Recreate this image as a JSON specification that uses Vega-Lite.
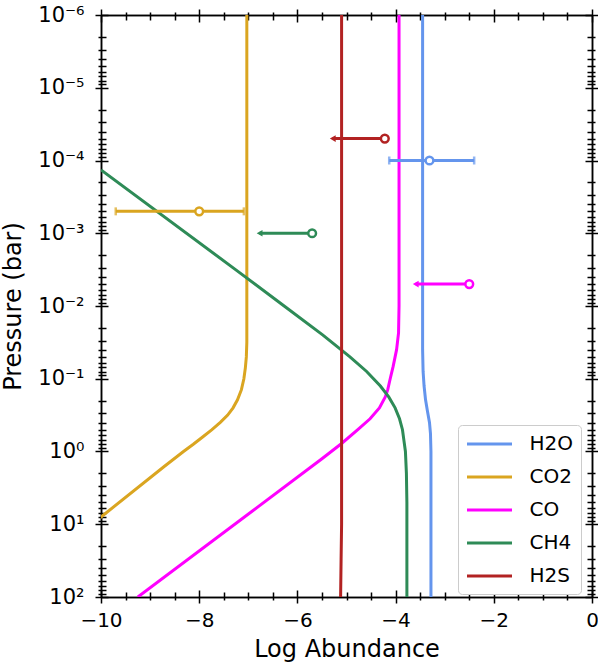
{
  "$schema": "https://vega.github.io/schema/vega-lite/v6.json",
  "width": 491,
  "height": 582,
  "autosize": "none",
  "padding": {"left": 101, "top": 15, "right": 6, "bottom": 68},
  "config": {
    "font": "DejaVu Sans",
    "view": {"stroke": null},
    "axis": {"grid": false, "domainColor": "black", "domainWidth": 1.5, "tickColor": "black", "tickWidth": 1.5, "labelColor": "black", "titleColor": "black", "titleFontWeight": "normal"}
  },
  "datasets": {
    "curves": [
      {"s": "H2O", "i": 0, "x": -3.45, "p": 1e-6},
      {"s": "H2O", "i": 1, "x": -3.45, "p": 0.0398},
      {"s": "H2O", "i": 2, "x": -3.44, "p": 0.0794},
      {"s": "H2O", "i": 3, "x": -3.42, "p": 0.1259},
      {"s": "H2O", "i": 4, "x": -3.39, "p": 0.195},
      {"s": "H2O", "i": 5, "x": -3.35, "p": 0.2818},
      {"s": "H2O", "i": 6, "x": -3.31, "p": 0.398},
      {"s": "H2O", "i": 7, "x": -3.29, "p": 0.5623},
      {"s": "H2O", "i": 8, "x": -3.28, "p": 1},
      {"s": "H2O", "i": 9, "x": -3.28, "p": 100},
      {"s": "CO2", "i": 0, "x": -7.03, "p": 1e-6},
      {"s": "CO2", "i": 1, "x": -7.03, "p": 0.0316},
      {"s": "CO2", "i": 2, "x": -7.04, "p": 0.0501},
      {"s": "CO2", "i": 3, "x": -7.06, "p": 0.0708},
      {"s": "CO2", "i": 4, "x": -7.09, "p": 0.1},
      {"s": "CO2", "i": 5, "x": -7.14, "p": 0.1413},
      {"s": "CO2", "i": 6, "x": -7.22, "p": 0.195},
      {"s": "CO2", "i": 7, "x": -7.31, "p": 0.251},
      {"s": "CO2", "i": 8, "x": -7.42, "p": 0.316},
      {"s": "CO2", "i": 9, "x": -7.57, "p": 0.398},
      {"s": "CO2", "i": 10, "x": -7.74, "p": 0.501},
      {"s": "CO2", "i": 11, "x": -7.93, "p": 0.631},
      {"s": "CO2", "i": 12, "x": -8.12, "p": 0.794},
      {"s": "CO2", "i": 13, "x": -8.32, "p": 1},
      {"s": "CO2", "i": 14, "x": -8.70, "p": 1.585},
      {"s": "CO2", "i": 15, "x": -10.0, "p": 7.94},
      {"s": "CO2", "i": 16, "x": -10.55, "p": 15.85},
      {"s": "CO", "i": 0, "x": -3.93, "p": 1e-6},
      {"s": "CO", "i": 1, "x": -3.93, "p": 0.01},
      {"s": "CO", "i": 2, "x": -3.94, "p": 0.0234},
      {"s": "CO", "i": 3, "x": -3.98, "p": 0.0398},
      {"s": "CO", "i": 4, "x": -4.05, "p": 0.0676},
      {"s": "CO", "i": 5, "x": -4.11, "p": 0.1},
      {"s": "CO", "i": 6, "x": -4.16, "p": 0.1413},
      {"s": "CO", "i": 7, "x": -4.21, "p": 0.1778},
      {"s": "CO", "i": 8, "x": -4.33, "p": 0.2512},
      {"s": "CO", "i": 9, "x": -4.52, "p": 0.3548},
      {"s": "CO", "i": 10, "x": -4.77, "p": 0.5012},
      {"s": "CO", "i": 11, "x": -5.10, "p": 0.7762},
      {"s": "CO", "i": 12, "x": -5.50, "p": 1.2589},
      {"s": "CO", "i": 13, "x": -9.25, "p": 100},
      {"s": "CH4", "i": 0, "x": -10.0, "p": 0.0001349},
      {"s": "CH4", "i": 1, "x": -7.26, "p": 0.00316},
      {"s": "CH4", "i": 2, "x": -6.27, "p": 0.01},
      {"s": "CH4", "i": 3, "x": -5.48, "p": 0.0251},
      {"s": "CH4", "i": 4, "x": -4.93, "p": 0.0501},
      {"s": "CH4", "i": 5, "x": -4.59, "p": 0.0794},
      {"s": "CH4", "i": 6, "x": -4.31, "p": 0.1259},
      {"s": "CH4", "i": 7, "x": -4.14, "p": 0.1778},
      {"s": "CH4", "i": 8, "x": -4.01, "p": 0.2512},
      {"s": "CH4", "i": 9, "x": -3.92, "p": 0.3548},
      {"s": "CH4", "i": 10, "x": -3.86, "p": 0.5012},
      {"s": "CH4", "i": 11, "x": -3.83, "p": 0.7079},
      {"s": "CH4", "i": 12, "x": -3.80, "p": 1},
      {"s": "CH4", "i": 13, "x": -3.78, "p": 1.995},
      {"s": "CH4", "i": 14, "x": -3.77, "p": 5.012},
      {"s": "CH4", "i": 15, "x": -3.77, "p": 100},
      {"s": "H2S", "i": 0, "x": -5.10, "p": 1e-6},
      {"s": "H2S", "i": 1, "x": -5.10, "p": 10},
      {"s": "H2S", "i": 2, "x": -5.11, "p": 30},
      {"s": "H2S", "i": 3, "x": -5.12, "p": 100}
    ],
    "obs": [
      {"s": "H2O", "x": -3.31, "p": 0.0001, "lo": -4.13, "hi": -2.40},
      {"s": "CO2", "x": -8.0, "p": 0.0005, "lo": -9.70, "hi": -7.09},
      {"s": "H2S", "x": -4.22, "p": 0.00005, "lo": -5.28, "hi": -4.22},
      {"s": "CH4", "x": -5.70, "p": 0.001, "lo": -6.77, "hi": -5.70},
      {"s": "CO", "x": -2.5, "p": 0.005, "lo": -3.59, "hi": -2.5}
    ],
    "caps": [
      {"s": "H2O", "x": -4.13, "p": 0.0001},
      {"s": "H2O", "x": -2.40, "p": 0.0001},
      {"s": "CO2", "x": -9.70, "p": 0.0005},
      {"s": "CO2", "x": -7.09, "p": 0.0005}
    ],
    "arrows": [
      {"s": "H2S", "x": -5.28, "p": 0.00005},
      {"s": "CH4", "x": -6.77, "p": 0.001},
      {"s": "CO", "x": -3.59, "p": 0.005}
    ]
  },
  "layer": [
    {
      "data": {"name": "curves"},
      "mark": {"type": "line", "strokeWidth": 3, "clip": true},
      "encoding": {
        "x": {"field": "x", "type": "quantitative", "scale": {"domain": [-10, 0], "nice": false, "zero": false},
          "axis": {"orient": "bottom", "values": [-10,-9.5,-9,-8.5,-8,-7.5,-7,-6.5,-6,-5.5,-5,-4.5,-4,-3.5,-3,-2.5,-2,-1.5,-1,-0.5,0],
            "tickSize": {"condition": {"test": "datum.value % 2 == 0", "value": 6}, "value": 3},
            "labelExpr": "datum.value % 2 == 0 ? format(datum.value, 'd') : ''",
            "labelFontSize": 20, "labelPadding": 7, "labelOverlap": false, "labelBound": false, "labelFlush": false,
            "title": "Log Abundance", "titleFontSize": 24, "titlePadding": 7}},
        "y": {"field": "p", "type": "quantitative", "scale": {"type": "log", "domain": [1e-6, 100], "reverse": true, "nice": false},
          "axis": {"orient": "left", "values": [1e-6,2e-6,3e-6,4e-6,5e-6,6e-6,7e-6,8e-6,9e-6,1e-5,2e-5,3e-5,4e-5,5e-5,6e-5,7e-5,8e-5,9e-5,1e-4,2e-4,3e-4,4e-4,5e-4,6e-4,7e-4,8e-4,9e-4,0.001,0.002,0.003,0.004,0.005,0.006,0.007,0.008,0.009,0.01,0.02,0.03,0.04,0.05,0.06,0.07,0.08,0.09,0.1,0.2,0.3,0.4,0.5,0.6,0.7,0.8,0.9,1,2,3,4,5,6,7,8,9,10,20,30,40,50,60,70,80,90,100],
            "tickSize": {"condition": {"test": "abs(log(datum.value)/LN10 - round(log(datum.value)/LN10)) < 0.01", "value": 6}, "value": 3},
            "labelExpr": "abs(log(datum.value)/LN10 - round(log(datum.value)/LN10)) < 0.01 ? '10' + ['⁻⁶','⁻⁵','⁻⁴','⁻³','⁻²','⁻¹','⁰','¹','²'][round(log(datum.value)/LN10) + 6] : ''",
            "labelFontSize": 21, "labelPadding": 11, "labelOverlap": false, "labelBound": false, "labelFlush": false,
            "title": "Pressure (bar)", "titleFontSize": 24, "titlePadding": 12}},
        "color": {"field": "s", "type": "nominal",
          "scale": {"domain": ["H2O", "CO2", "CO", "CH4", "H2S"], "range": ["#6495ED", "#DAA520", "#FF00FF", "#2E8B57", "#B22222"]},
          "legend": {"title": null, "orient": "none", "legendX": 357, "legendY": 410, "symbolType": "M-1,0H3.5", "symbolSize": 400, "symbolStrokeWidth": 3,
            "labelFontSize": 20, "labelOffset": 41, "rowPadding": 11, "padding": 7.5, "fillColor": "white", "strokeColor": "#cccccc", "cornerRadius": 4, "labelColor": "black"}},
        "order": {"field": "i", "type": "quantitative"}
      }
    },
    {
      "data": {"name": "obs"},
      "mark": {"type": "rule", "strokeWidth": 3},
      "encoding": {
        "x": {"field": "lo", "type": "quantitative", "scale": {"domain": [-10, 0], "nice": false, "zero": false},
          "axis": {"orient": "bottom", "values": [-10,-9.5,-9,-8.5,-8,-7.5,-7,-6.5,-6,-5.5,-5,-4.5,-4,-3.5,-3,-2.5,-2,-1.5,-1,-0.5,0],
            "tickSize": {"condition": {"test": "datum.value % 2 == 0", "value": -7}, "value": -5},
            "labels": false, "title": null}},
        "x2": {"field": "hi"},
        "y": {"field": "p", "type": "quantitative", "scale": {"type": "log", "domain": [1e-6, 100], "reverse": true, "nice": false},
          "axis": {"orient": "left", "values": [1e-6,2e-6,3e-6,4e-6,5e-6,6e-6,7e-6,8e-6,9e-6,1e-5,2e-5,3e-5,4e-5,5e-5,6e-5,7e-5,8e-5,9e-5,1e-4,2e-4,3e-4,4e-4,5e-4,6e-4,7e-4,8e-4,9e-4,0.001,0.002,0.003,0.004,0.005,0.006,0.007,0.008,0.009,0.01,0.02,0.03,0.04,0.05,0.06,0.07,0.08,0.09,0.1,0.2,0.3,0.4,0.5,0.6,0.7,0.8,0.9,1,2,3,4,5,6,7,8,9,10,20,30,40,50,60,70,80,90,100],
            "tickSize": {"condition": {"test": "abs(log(datum.value)/LN10 - round(log(datum.value)/LN10)) < 0.01", "value": -7}, "value": -5},
            "labels": false, "title": null}},
        "color": {"field": "s", "type": "nominal", "legend": null}
      }
    },
    {
      "data": {"name": "caps"},
      "mark": {"type": "tick", "orient": "vertical", "size": 8, "thickness": 2.5},
      "encoding": {
        "x": {"field": "x", "type": "quantitative", "scale": {"domain": [-10, 0], "nice": false, "zero": false},
          "axis": {"orient": "top", "values": [-10,-9.5,-9,-8.5,-8,-7.5,-7,-6.5,-6,-5.5,-5,-4.5,-4,-3.5,-3,-2.5,-2,-1.5,-1,-0.5,0],
            "tickSize": {"condition": {"test": "datum.value % 2 == 0", "value": 6}, "value": 3},
            "labels": false, "title": null}},
        "y": {"field": "p", "type": "quantitative", "scale": {"type": "log", "domain": [1e-6, 100], "reverse": true, "nice": false},
          "axis": {"orient": "right", "values": [1e-6,2e-6,3e-6,4e-6,5e-6,6e-6,7e-6,8e-6,9e-6,1e-5,2e-5,3e-5,4e-5,5e-5,6e-5,7e-5,8e-5,9e-5,1e-4,2e-4,3e-4,4e-4,5e-4,6e-4,7e-4,8e-4,9e-4,0.001,0.002,0.003,0.004,0.005,0.006,0.007,0.008,0.009,0.01,0.02,0.03,0.04,0.05,0.06,0.07,0.08,0.09,0.1,0.2,0.3,0.4,0.5,0.6,0.7,0.8,0.9,1,2,3,4,5,6,7,8,9,10,20,30,40,50,60,70,80,90,100],
            "tickSize": {"condition": {"test": "abs(log(datum.value)/LN10 - round(log(datum.value)/LN10)) < 0.01", "value": 6}, "value": 3},
            "labels": false, "title": null}},
        "color": {"field": "s", "type": "nominal", "legend": null}
      }
    },
    {
      "data": {"name": "arrows"},
      "mark": {"type": "point", "shape": "triangle-left", "filled": true, "size": 45, "opacity": 1},
      "encoding": {
        "x": {"field": "x", "type": "quantitative", "scale": {"domain": [-10, 0], "nice": false, "zero": false},
          "axis": {"orient": "top", "values": [-10,-9.5,-9,-8.5,-8,-7.5,-7,-6.5,-6,-5.5,-5,-4.5,-4,-3.5,-3,-2.5,-2,-1.5,-1,-0.5,0],
            "tickSize": {"condition": {"test": "datum.value % 2 == 0", "value": -7}, "value": -5},
            "labels": false, "title": null}},
        "y": {"field": "p", "type": "quantitative", "scale": {"type": "log", "domain": [1e-6, 100], "reverse": true, "nice": false},
          "axis": {"orient": "right", "values": [1e-6,2e-6,3e-6,4e-6,5e-6,6e-6,7e-6,8e-6,9e-6,1e-5,2e-5,3e-5,4e-5,5e-5,6e-5,7e-5,8e-5,9e-5,1e-4,2e-4,3e-4,4e-4,5e-4,6e-4,7e-4,8e-4,9e-4,0.001,0.002,0.003,0.004,0.005,0.006,0.007,0.008,0.009,0.01,0.02,0.03,0.04,0.05,0.06,0.07,0.08,0.09,0.1,0.2,0.3,0.4,0.5,0.6,0.7,0.8,0.9,1,2,3,4,5,6,7,8,9,10,20,30,40,50,60,70,80,90,100],
            "tickSize": {"condition": {"test": "abs(log(datum.value)/LN10 - round(log(datum.value)/LN10)) < 0.01", "value": -7}, "value": -5},
            "labels": false, "title": null}},
        "color": {"field": "s", "type": "nominal", "legend": null}
      }
    },
    {
      "data": {"name": "obs"},
      "mark": {"type": "point", "shape": "circle", "filled": false, "fill": "white", "size": 60, "strokeWidth": 2.5, "opacity": 1},
      "encoding": {
        "x": {"field": "x", "type": "quantitative", "axis": null},
        "y": {"field": "p", "type": "quantitative", "axis": null},
        "stroke": {"field": "s", "type": "nominal", "scale": {"domain": ["H2O", "CO2", "CO", "CH4", "H2S"], "range": ["#6495ED", "#DAA520", "#FF00FF", "#2E8B57", "#B22222"]}, "legend": null}
      }
    }
  ],
  "resolve": {"axis": {"x": "independent", "y": "independent"}}
}
